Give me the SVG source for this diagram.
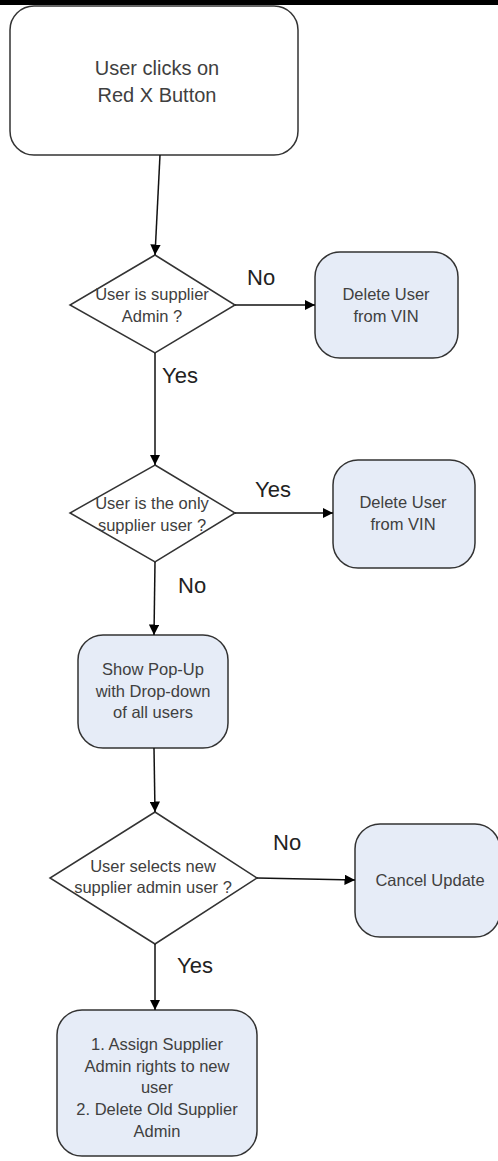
<svg xmlns="http://www.w3.org/2000/svg" width="498" height="1161" viewBox="0 0 498 1161">
<defs>
<style>
.box{fill:#E6ECF7;stroke:#333;stroke-width:1.5}
.start{fill:#fff;stroke:#333;stroke-width:1.5}
.dia{fill:#fff;stroke:#333;stroke-width:1.5}
.t{font-family:"Liberation Sans",Arial,sans-serif;font-size:16.5px;fill:#404040;text-anchor:middle}
.ts{font-family:"Liberation Sans",Arial,sans-serif;font-size:20px;fill:#404040;text-anchor:middle}
.lbl{font-family:"Liberation Sans",Arial,sans-serif;font-size:22px;fill:#222}
.c{fill:none;stroke:#111;stroke-width:1.5;marker-end:url(#ah)}
</style>
<marker id="ah" viewBox="0 0 10 10" refX="10" refY="5" markerWidth="7" markerHeight="7" markerUnits="strokeWidth" orient="auto">
<path d="M0,0 L10,5 L0,10 z" fill="#000"/>
</marker>
</defs>
<rect x="0" y="0" width="498" height="5" fill="#000"/>
<g id="start">
<rect class="start" x="10" y="6" width="288" height="149" rx="24"/>
<text class="ts" x="157" y="75">User clicks on</text>
<text class="ts" x="157" y="102">Red X Button</text>
</g>
<g id="dec1">
<polygon class="dia" points="155,255 235,305 155,353 70,305"/>
<text class="t" x="152" y="300">User is supplier</text>
<text class="t" x="152" y="322">Admin ?</text>
</g>
<g id="del1">
<rect class="box" x="315" y="252" width="143" height="106" rx="25"/>
<text class="t" x="386" y="300">Delete User</text>
<text class="t" x="386" y="322">from VIN</text>
</g>
<g id="dec2">
<polygon class="dia" points="155,465 235,513 155,562 70,513"/>
<text class="t" x="152" y="509">User is the only</text>
<text class="t" x="152" y="531">supplier user ?</text>
</g>
<g id="del2">
<rect class="box" x="333" y="460" width="142" height="108" rx="25"/>
<text class="t" x="403" y="508">Delete User</text>
<text class="t" x="403" y="530">from VIN</text>
</g>
<g id="popup">
<rect class="box" x="78" y="635" width="150" height="113" rx="25"/>
<text class="t" x="153" y="675">Show Pop-Up</text>
<text class="t" x="153" y="697">with Drop-down</text>
<text class="t" x="153" y="718">of all users</text>
</g>
<g id="dec3">
<polygon class="dia" points="155,812 257,878 155,944 50,878"/>
<text class="t" x="153" y="872">User selects new</text>
<text class="t" x="153" y="893">supplier admin user ?</text>
</g>
<g id="cancel">
<rect class="box" x="355" y="824" width="145" height="113" rx="25"/>
<text class="t" x="430" y="886">Cancel Update</text>
</g>
<g id="assign">
<rect class="box" x="57" y="1010" width="200" height="146" rx="25"/>
<text class="t" x="157" y="1050">1. Assign Supplier</text>
<text class="t" x="157" y="1072">Admin rights to new</text>
<text class="t" x="157" y="1093">user</text>
<text class="t" x="157" y="1115">2. Delete Old Supplier</text>
<text class="t" x="157" y="1137">Admin</text>
</g>
<g id="connectors">
<path class="c" d="M160,155 L155,255"/>
<path class="c" d="M235,305 L315,305"/>
<path class="c" d="M155,353 L155,465"/>
<path class="c" d="M235,513 L333,513"/>
<path class="c" d="M155,562 L154,635"/>
<path class="c" d="M154,748 L155,812"/>
<path class="c" d="M257,878 L355,880"/>
<path class="c" d="M155,944 L155,1010"/>
<text class="lbl" x="247" y="285">No</text>
<text class="lbl" x="162" y="383">Yes</text>
<text class="lbl" x="255" y="497">Yes</text>
<text class="lbl" x="178" y="593">No</text>
<text class="lbl" x="273" y="850">No</text>
<text class="lbl" x="177" y="973">Yes</text>
</g>
</svg>
